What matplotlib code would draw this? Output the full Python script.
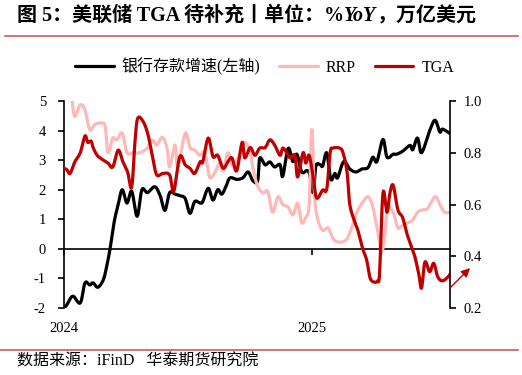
import matplotlib
matplotlib.use('Agg')
import matplotlib.pyplot as plt
import matplotlib.dates as mdates
from matplotlib.lines import Line2D
from matplotlib.transforms import blended_transform_factory
from matplotlib.offsetbox import TextArea, HPacker, AnchoredOffsetbox
import numpy as np
import pandas as pd

plt.rcParams['font.family'] = ['Liberation Serif', 'Noto Sans CJK SC', 'DejaVu Sans']
plt.rcParams['axes.unicode_minus'] = False

# ---------------- data (days since 2024-01-01) ----------------
START = '2024-01-01'

deposit_days = [0, 4, 13, 24, 31, 38, 43, 50, 58, 63, 68, 74, 80, 86, 93, 100, 108, 115, 123,
                134, 142, 149, 156, 164, 171, 179, 186, 193, 201, 205, 213, 220, 227, 233, 239,
                245, 255, 264, 272, 279, 286, 289, 297, 304, 311, 319, 323, 331, 338, 344, 351,
                359, 363, 368, 372, 378, 382, 388, 394, 400, 404, 413, 422, 431, 440, 449, 456,
                462, 471, 477, 486, 491, 500, 511, 515, 522, 528, 540, 548, 555, 559, 570]
deposit_yoy = [-2.0, -1.9, -1.6, -1.83, -1.15, -1.22, -1.15, -1.3, -1.05, -0.6, 0.0, 0.9, 1.5,
               2.0, 1.55, 1.95, 1.1, 2.0, 1.9, 2.1, 1.8, 1.3, 1.9, 1.85, 1.8, 1.7, 1.2, 1.6, 1.55,
               1.6, 2.05, 1.65, 2.0, 1.85, 2.1, 2.4, 2.35, 2.4, 2.6, 2.3, 2.3, 3.07, 2.84, 2.94,
               2.77, 2.85, 2.45, 3.4, 2.95, 3.2, 2.6, 2.65, 2.5, 1.9, 2.8, 2.85, 2.8, 3.25, 2.35,
               2.55, 2.4, 2.95, 2.7, 2.6, 2.7, 2.75, 3.1, 2.95, 3.7, 3.1, 3.2, 3.2, 3.3, 3.5, 3.35,
               3.75, 3.25, 4.0, 4.35, 3.95, 4.05, 3.9]

rrp_days = [12, 16, 24, 31, 38, 46, 56, 61, 65, 72, 78, 86, 93, 102, 112, 123, 130, 137, 145,
            152, 156, 164, 168, 179, 186, 193, 201, 208, 215, 223, 230, 235, 242, 249, 257, 267,
            275, 279, 286, 294, 301, 308, 316, 323, 331, 338, 345, 351, 357, 362, 366, 370, 375,
            382, 390, 397, 404, 415, 422, 432, 440, 449, 456, 463, 469, 474, 478, 486, 493, 500,
            508, 515, 522, 530, 537, 548, 555, 562, 570]
rrp = [1.0, 0.94, 0.985, 0.965, 0.89, 0.91, 0.915, 0.90, 0.80, 0.857, 0.85, 0.876, 0.80, 0.80,
       0.80, 0.818, 0.85, 0.83, 0.86, 0.82, 0.745, 0.83, 0.745, 0.876, 0.82, 0.81, 0.79, 0.80,
       0.706, 0.725, 0.76, 0.73, 0.80, 0.75, 0.78, 0.84, 0.80, 0.74, 0.67, 0.645, 0.65, 0.57,
       0.63, 0.60, 0.59, 0.56, 0.605, 0.53, 0.55, 0.60, 0.89, 0.63, 0.54, 0.50, 0.51, 0.47,
       0.455, 0.46, 0.49, 0.567, 0.605, 0.63, 0.59, 0.50, 0.416, 0.49, 0.59, 0.57, 0.51, 0.52,
       0.53, 0.54, 0.57, 0.58, 0.585, 0.63, 0.60, 0.57, 0.57]

tga_days = [0, 4, 9, 16, 24, 31, 35, 40, 43, 49, 56, 65, 72, 80, 87, 94, 100, 105, 109, 117,
            124, 131, 137, 146, 156, 162, 171, 179, 186, 193, 201, 205, 213, 220, 227, 235, 242,
            248, 255, 263, 267, 275, 282, 289, 297, 304, 311, 319, 323, 329, 334, 341, 345, 353,
            357, 362, 368, 373, 382, 388, 393, 397, 407, 412, 418, 422, 430, 434, 441, 447, 452,
            458, 463, 466, 471, 477, 481, 486, 493, 500, 506, 514, 518, 524, 528, 533, 540, 546,
            552, 559, 567, 570]
tga = [0.74, 0.735, 0.72, 0.765, 0.80, 0.865, 0.84, 0.845, 0.82, 0.79, 0.775, 0.76, 0.745,
       0.81, 0.765, 0.725, 0.667, 0.85, 0.934, 0.92, 0.87, 0.78, 0.714, 0.72, 0.714, 0.65, 0.785,
       0.753, 0.74, 0.72, 0.765, 0.765, 0.857, 0.785, 0.79, 0.74, 0.765, 0.78, 0.73, 0.84, 0.78,
       0.82, 0.79, 0.818, 0.82, 0.85, 0.83, 0.79, 0.818, 0.80, 0.78, 0.79, 0.706, 0.80, 0.76,
       0.79, 0.706, 0.625, 0.656, 0.66, 0.80, 0.818, 0.818, 0.80, 0.725, 0.60, 0.528, 0.50,
       0.43, 0.385, 0.316, 0.30, 0.305, 0.335, 0.644, 0.57, 0.64, 0.675, 0.58, 0.55, 0.49, 0.43,
       0.40, 0.33, 0.277, 0.378, 0.34, 0.373, 0.32, 0.305, 0.32, 0.33]

left_ticks = [-2, -1, 0, 1, 2, 3, 4, 5]
right_ticks = [0.2, 0.4, 0.6, 0.8, 1.0]
year_ticks = ['2024-01-01', '2025-01-01']
year_labels = ['2024', '2025']
x_range_days = [0, 570]

title_parts = ['图 5：美联储 TGA 待补充丨单位：%', 'YoY', '，万亿美元']
source = '数据来源：iFinD   华泰期货研究院'
labels = ['银行存款增速(左轴)', 'RRP', 'TGA']


def to_num(days):
    return mdates.date2num(pd.Timestamp(START) + pd.to_timedelta(np.asarray(days), unit='D'))


def smooth(x, y, n=8):
    P = np.column_stack([np.asarray(x, float), np.asarray(y, float)])
    P = np.vstack([P[0], P, P[-1]])
    out = []
    t = np.linspace(0, 1, n, endpoint=False)
    for i in range(1, len(P) - 2):
        p0, p1, p2, p3 = P[i - 1], P[i], P[i + 1], P[i + 2]
        for tt in t:
            out.append(0.5 * (2 * p1 + (-p0 + p2) * tt + (2 * p0 - 5 * p1 + 4 * p2 - p3) * tt ** 2
                              + (-p0 + 3 * p1 - 3 * p2 + p3) * tt ** 3))
    out.append(P[-2])
    out = np.array(out)
    return out[:, 0], out[:, 1]


W, H = 522, 375
fig = plt.figure(figsize=(W / 100, H / 100), dpi=100)
ax = fig.add_axes([64 / W, 1 - 308 / H, 386 / W, 207 / H])
ax2 = ax.twinx()

c_black, c_pink, c_red = '#000000', '#FFB8B8', '#C00000'
lw = 2.3

xs, ys = smooth(to_num(deposit_days), deposit_yoy)
l1, = ax.plot(xs, ys, color=c_black, lw=lw, solid_joinstyle='round', solid_capstyle='round')
xs, ys = smooth(to_num(rrp_days), rrp)
l2, = ax2.plot(xs, ys, color=c_pink, lw=lw, solid_joinstyle='round', solid_capstyle='round')
xs, ys = smooth(to_num(tga_days), tga)
l3, = ax2.plot(xs, ys, color=c_red, lw=lw, solid_joinstyle='round', solid_capstyle='round')

ax.set_xlim(to_num(x_range_days))
ax.set_ylim(-2, 5)
ax2.set_ylim(0.2, 1.0)

for s in ['top', 'right']:
    ax.spines[s].set_visible(False)
for s in ['top', 'bottom', 'left']:
    ax2.spines[s].set_visible(False)
ax.spines['bottom'].set_position(('data', 0))
for sp in [ax.spines['left'], ax.spines['bottom'], ax2.spines['right']]:
    sp.set_linewidth(1.2)

ax.set_yticks(left_ticks)
ax.set_yticklabels([str(v) for v in left_ticks])
ax2.set_yticks(right_ticks)
ax2.set_yticklabels([f'{v:.1f}' for v in right_ticks])
ax.tick_params(axis='y', direction='out', length=4, width=1.2, labelsize=10.5, pad=9)
ax2.tick_params(axis='y', direction='out', length=4, width=1.2, labelsize=10.5, pad=6)

yt = mdates.date2num(pd.to_datetime(year_ticks))
ax.set_xticks(yt)
ax.tick_params(axis='x', direction='out', length=4, width=1.2, labelbottom=False)
trans = blended_transform_factory(ax.transData, ax.transAxes)
for xv, lab in zip(yt, year_labels):
    ax.text(xv, -0.097, lab, transform=trans, ha='center', va='center', fontsize=10.5)

# arrow annotation
ax2.annotate('', xy=(1.052, 0.193), xytext=(1.0, 0.097), xycoords='axes fraction',
             textcoords='axes fraction', annotation_clip=False,
             arrowprops=dict(arrowstyle='-|>', color=c_red, lw=1.0, mutation_scale=13,
                             shrinkA=0, shrinkB=0))

# legend
fig.legend([l1, l2, l3], labels, loc='center', bbox_to_anchor=(0.507, 1 - 67 / H), ncol=3,
           frameon=False, fontsize=11.5, handlelength=2.4, columnspacing=1.2, handletextpad=0.5)

# title (three pieces so that YoY can be italic)
tprops = dict(size=14.4, weight='bold')
parts = [TextArea(title_parts[0], textprops=dict(**tprops)),
         TextArea(title_parts[1], textprops=dict(style='italic', **tprops)),
         TextArea(title_parts[2], textprops=dict(**tprops))]
box = HPacker(children=parts, align='baseline', pad=0, sep=0)
ab = AnchoredOffsetbox(loc='center left', child=box, pad=0, frameon=False,
                       bbox_to_anchor=(17 / W, 1 - 16 / H), bbox_transform=fig.transFigure,
                       borderpad=0)
fig.add_artist(ab)

fig.add_artist(Line2D([5 / W, 518 / W], [1 - 36 / H] * 2, color='#C85A5A', lw=1.2))
fig.add_artist(Line2D([0, 518 / W], [1 - 350 / H] * 2, color='#C85A5A', lw=1.2))
fig.text(17 / W, 1 - 362 / H, source, fontsize=11.5, ha='left', va='center')

fig.savefig('out.png', dpi=100)
